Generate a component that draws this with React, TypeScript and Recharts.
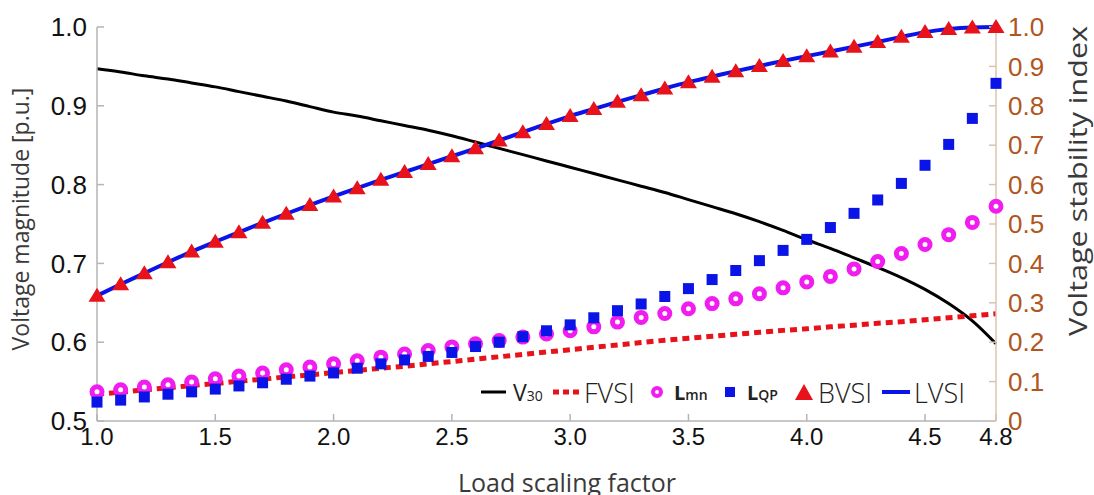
import React from 'react';
import { ComposedChart, Line, XAxis, YAxis } from 'recharts';

// load scaling factor, step 0.1
const loadFactor = [
  1.0, 1.1, 1.2, 1.3, 1.4, 1.5, 1.6, 1.7, 1.8, 1.9, 2.0, 2.1, 2.2, 2.3, 2.4, 2.5, 2.6, 2.7, 2.8, 2.9,
  3.0, 3.1, 3.2, 3.3, 3.4, 3.5, 3.6, 3.7, 3.8, 3.9, 4.0, 4.1, 4.2, 4.3, 4.4, 4.5, 4.6, 4.7, 4.8,
];

// voltage at bus 30 (left axis, p.u.)
const v30 = [
  0.947, 0.943, 0.938, 0.934, 0.929, 0.924, 0.918, 0.912, 0.906, 0.899, 0.892, 0.887, 0.881, 0.875,
  0.869, 0.862, 0.854, 0.846, 0.838, 0.830, 0.822, 0.814, 0.806, 0.798, 0.790, 0.781, 0.772, 0.763,
  0.753, 0.742, 0.730, 0.719, 0.707, 0.695, 0.682, 0.667, 0.649, 0.627, 0.598,
];

// stability indices (right axis)
const fvsi = [
  0.068, 0.073, 0.079, 0.084, 0.09, 0.095, 0.101, 0.106, 0.112, 0.117, 0.123, 0.128, 0.134, 0.139,
  0.145, 0.151, 0.157, 0.163, 0.169, 0.175, 0.181, 0.187, 0.193, 0.199, 0.205, 0.21, 0.215, 0.22,
  0.225, 0.23, 0.234, 0.239, 0.243, 0.248, 0.252, 0.257, 0.262, 0.267, 0.272,
];
const lmn = [
  0.074, 0.079, 0.086, 0.092, 0.099, 0.107, 0.114, 0.122, 0.13, 0.137, 0.145, 0.153, 0.162, 0.17,
  0.179, 0.188, 0.196, 0.204, 0.213, 0.221, 0.229, 0.239, 0.251, 0.263, 0.273, 0.285, 0.298, 0.31,
  0.323, 0.338, 0.353, 0.367, 0.386, 0.405, 0.425, 0.448, 0.473, 0.504, 0.545,
];
const lqp = [
  0.048, 0.053, 0.061, 0.068, 0.074, 0.081, 0.089, 0.097, 0.106, 0.114, 0.122, 0.134, 0.145, 0.155,
  0.164, 0.174, 0.189, 0.2, 0.214, 0.229, 0.244, 0.262, 0.28, 0.297, 0.316, 0.336, 0.359, 0.382,
  0.407, 0.433, 0.461, 0.491, 0.527, 0.561, 0.603, 0.649, 0.702, 0.768, 0.857,
];
const bvsi = [
  0.318, 0.347, 0.375, 0.403, 0.43, 0.455, 0.479, 0.503, 0.526, 0.548, 0.57, 0.591, 0.612, 0.632,
  0.652, 0.672, 0.692, 0.712, 0.733, 0.754, 0.774, 0.792, 0.81, 0.827, 0.844, 0.86, 0.874, 0.888,
  0.901, 0.914, 0.926, 0.938, 0.95, 0.962, 0.975, 0.987, 0.995, 0.999, 1.0,
];
const lvsi = bvsi;

const xTicks = [1.0, 1.5, 2.0, 2.5, 3.0, 3.5, 4.0, 4.5, 4.8];
const leftTicks = [0.5, 0.6, 0.7, 0.8, 0.9, 1.0];
const rightTicks = [0, 0.1, 0.2, 0.3, 0.4, 0.5, 0.6, 0.7, 0.8, 0.9, 1.0];

const data = loadFactor.map((x, i) => ({
  x,
  v30: v30[i],
  fvsi: fvsi[i],
  lmn: lmn[i],
  lqp: lqp[i],
  bvsi: bvsi[i],
  lvsi: lvsi[i],
}));

const RED = '#e8121a';
const BLUE = '#0a14e6';
const MAGENTA = '#f01cf0';
const BROWN = '#b0561e';
const TITLE_FONT = '"Open Sans", "DejaVu Sans", sans-serif';
const TICK_FONT = '"Liberation Sans", Arial, sans-serif';

const RingDot = (p: any) => (
  <circle key={p.index} cx={p.cx} cy={p.cy} r={5} fill="#fff" stroke={MAGENTA} strokeWidth={5} />
);
const SquareDot = (p: any) => (
  <rect key={p.index} x={p.cx - 5.5} y={p.cy - 5.5} width={11} height={11} fill={BLUE} />
);
const TriangleDot = (p: any) => (
  <path
    key={p.index}
    d={`M${p.cx},${p.cy - 8} L${p.cx + 8.5},${p.cy + 6} L${p.cx - 8.5},${p.cy + 6} Z`}
    fill={RED}
  />
);

const legendItems = [
  { key: 'v30', main: 'V', sub: '30', icon: 'line', color: '#000' },
  { key: 'fvsi', main: 'FVSI', sub: '', icon: 'dots', color: RED },
  { key: 'lmn', main: 'L', sub: 'mn', icon: 'ring', color: MAGENTA },
  { key: 'lqp', main: 'L', sub: 'QP', icon: 'square', color: BLUE },
  { key: 'bvsi', main: 'BVSI', sub: '', icon: 'triangle', color: RED },
  { key: 'lvsi', main: 'LVSI', sub: '', icon: 'bline', color: BLUE },
];
const legendLeft = [481, 552, 650, 723, 794, 882];

const LegendIcon = ({ icon, color }: any) => {
  const w = icon === 'line' || icon === 'bline' || icon === 'dots' ? 28 : 20;
  return (
    <svg width={w} height={20} style={{ marginRight: 4 }}>
      {icon === 'line' && <line x1={0} y1={10} x2={25} y2={10} stroke={color} strokeWidth={3} />}
      {icon === 'bline' && <line x1={0} y1={10} x2={28} y2={10} stroke={color} strokeWidth={4} />}
      {icon === 'dots' && (
        <line x1={1} y1={10} x2={28} y2={10} stroke={color} strokeWidth={5} strokeDasharray="6 4" />
      )}
      {icon === 'ring' && <circle cx={7} cy={10} r={4} fill="#fff" stroke={color} strokeWidth={4} />}
      {icon === 'square' && <rect x={2} y={5} width={10} height={10} fill={color} />}
      {icon === 'triangle' && <path d="M10,2 L19,18 L1,18 Z" fill={color} />}
    </svg>
  );
};

const ChartLegend = () => (
  <div style={{ position: 'absolute', left: 0, top: 377, fontFamily: TITLE_FONT, color: '#222' }}>
    {legendItems.map((it, i) => (
      <div
        key={it.key}
        style={{
          position: 'absolute',
          left: legendLeft[i],
          top: 0,
          height: 30,
          display: 'flex',
          alignItems: 'center',
          whiteSpace: 'nowrap',
        }}
      >
        <LegendIcon icon={it.icon} color={it.color} />
        {it.sub && it.main === 'V' ? (
          <span style={{ fontSize: 23 }}>
            V<span style={{ fontSize: 14 }}>{it.sub}</span>
          </span>
        ) : it.sub ? (
          <span style={{ fontSize: 20, fontWeight: 700 }}>
            L<span style={{ fontSize: 14, fontWeight: 600 }}>{it.sub}</span>
          </span>
        ) : (
          <span style={{ fontSize: 27, fontWeight: 300 }}>{it.main}</span>
        )}
      </div>
    ))}
  </div>
);

const AxisTitles = () => (
  <svg
    width={1094}
    height={495}
    style={{ position: 'absolute', left: 0, top: 0, pointerEvents: 'none' }}
    fontFamily={TITLE_FONT}
    fill="#3a3a3a"
  >
    <text x={567} y={492} textAnchor="middle" fontSize={25}>
      Load scaling factor
    </text>
    <text x={20} y={219} transform="rotate(-90 20 219)" textAnchor="middle" dominantBaseline="central" fontSize={23}>
      Voltage magnitude [p.u.]
    </text>
    <text
      x={1077}
      y={181}
      transform="rotate(-90 1077 181)"
      textAnchor="middle"
      dominantBaseline="central"
      fontSize={26}
      textLength={310}
      lengthAdjust="spacingAndGlyphs"
    >
      Voltage stability index
    </text>
  </svg>
);

export default function App() {
  return (
    <div style={{ position: 'absolute', left: 0, top: 0, width: 1094, height: 495, background: '#fff', overflow: 'hidden' }}>
      <ComposedChart width={1094} height={495} data={data} margin={{ top: 27, right: 0, bottom: 0, left: 0 }}>
        <XAxis
          xAxisId="top"
          orientation="top"
          dataKey="x"
          type="number"
          domain={[1, 4.8]}
          ticks={xTicks}
          height={0}
          tickSize={-7}
          tickFormatter={() => ''}
          stroke="#b5b5b5"
          strokeWidth={1.5}
        />
        <XAxis
          dataKey="x"
          type="number"
          domain={[1, 4.8]}
          ticks={xTicks}
          height={74}
          tickSize={-7}
          tickMargin={14}
          tickFormatter={(v: number) => v.toFixed(1)}
          tick={{ fill: '#111', fontSize: 24, fontFamily: TICK_FONT }}
          stroke="#b5b5b5"
          strokeWidth={1.5}
        />
        <YAxis
          yAxisId="left"
          domain={[0.5, 1]}
          ticks={leftTicks}
          width={97}
          tickSize={-7}
          tickMargin={17}
          tickFormatter={(v: number) => v.toFixed(1)}
          tick={{ fill: '#111', fontSize: 26, fontFamily: TICK_FONT }}
          stroke="#b5b5b5"
          strokeWidth={1.5}
        />
        <YAxis
          yAxisId="right"
          orientation="right"
          domain={[0, 1]}
          ticks={rightTicks}
          width={98}
          tickSize={-7}
          tickMargin={19}
          tickFormatter={(v: number) => (v === 0 ? '0' : v.toFixed(1))}
          tick={{ fill: BROWN, fontSize: 26, fontFamily: TICK_FONT }}
          stroke="#dcc3ad"
          strokeWidth={1.5}
        />
        <Line yAxisId="left" dataKey="v30" type="monotone" stroke="#000" strokeWidth={3} dot={false} isAnimationActive={false} />
        <Line
          yAxisId="right"
          dataKey="fvsi"
          type="linear"
          stroke={RED}
          strokeWidth={5}
          strokeDasharray="7 5"
          dot={false}
          isAnimationActive={false}
        />
        <Line yAxisId="right" dataKey="lmn" stroke="none" dot={RingDot} isAnimationActive={false} />
        <Line yAxisId="right" dataKey="lqp" stroke="none" dot={SquareDot} isAnimationActive={false} />
        <Line yAxisId="right" dataKey="bvsi" stroke="none" dot={TriangleDot} isAnimationActive={false} />
        <Line yAxisId="right" dataKey="lvsi" type="monotone" stroke={BLUE} strokeWidth={4} dot={false} isAnimationActive={false} />
      </ComposedChart>
      <AxisTitles />
      <ChartLegend />
    </div>
  );
}
